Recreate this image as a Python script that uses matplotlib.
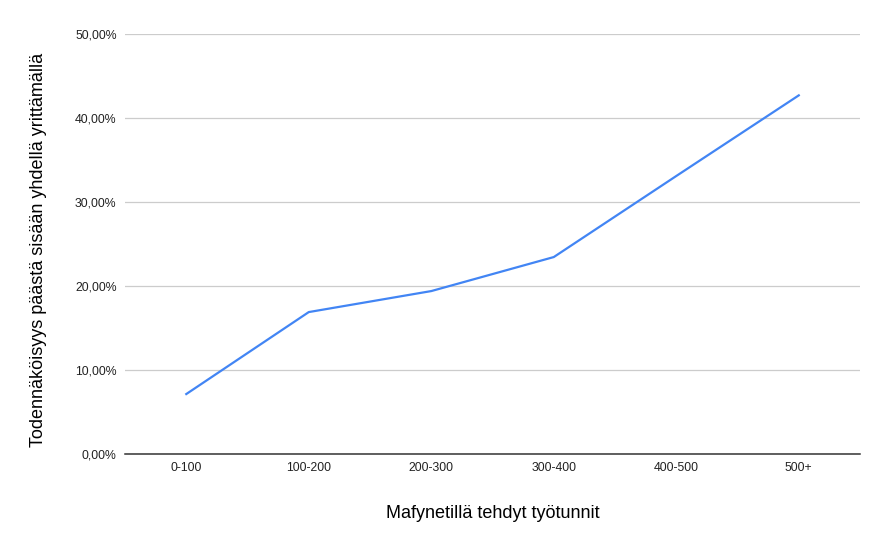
import matplotlib
matplotlib.use("Agg")
import matplotlib.pyplot as plt
from matplotlib.ticker import FuncFormatter

plt.rcParams['font.family'] = ['Liberation Sans', 'DejaVu Sans']

tunnit = ["0-100", "100-200", "200-300", "300-400", "400-500", "500+"]
todennakoisyys = [0.0714, 0.169, 0.194, 0.2345, 0.331, 0.427]
y_ticks = [0.0, 0.1, 0.2, 0.3, 0.4, 0.5]

fig = plt.figure(figsize=(8.88, 5.5), dpi=100)
ax = fig.add_axes([0.1408, 0.1745, 0.8277, 0.7636])

x = list(range(len(tunnit)))
ax.plot(x, todennakoisyys, color="#4285f4", linewidth=1.6)

ax.set_xlim(-0.5, len(tunnit) - 0.5)
ax.set_ylim(0, 0.5)
ax.set_xticks(x)
ax.set_xticklabels(tunnit)
ax.set_yticks(y_ticks)
ax.yaxis.set_major_formatter(FuncFormatter(lambda v, p: f"{v*100:.2f}%".replace(".", ",")))

ax.grid(axis="y", color="#cccccc", linewidth=0.9)
ax.set_axisbelow(True)
for s in ["top", "right", "left"]:
    ax.spines[s].set_visible(False)
ax.spines["bottom"].set_color("#333333")
ax.spines["bottom"].set_linewidth(1.1)
ax.tick_params(axis="both", length=0, labelsize=8.8, colors="#222222")
ax.tick_params(axis="x", pad=6)
ax.tick_params(axis="y", pad=6)

fig.text(0.5546, 0.067, "Mafynetillä tehdyt työtunnit", ha="center", va="center", fontsize=13, color="#000000")
fig.text(0.043, 0.545, "Todennäköisyys päästä sisään yhdellä yrittämällä", ha="center", va="center",
         rotation=90, fontsize=13, color="#000000")

fig.savefig("out.png", dpi=100)
